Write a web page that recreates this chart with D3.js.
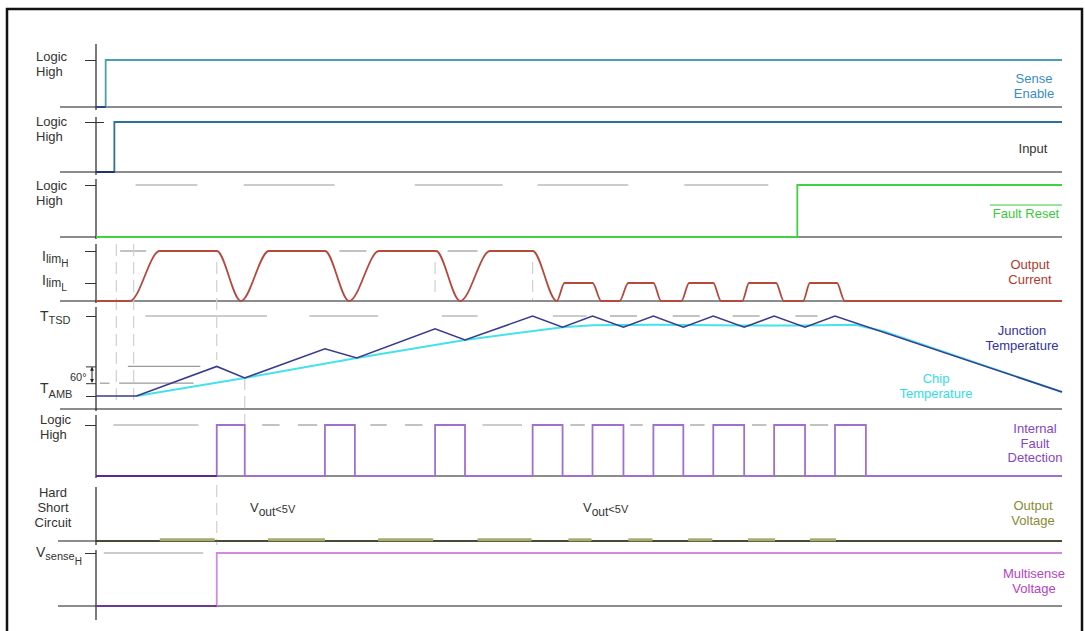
<!DOCTYPE html>
<html>
<head>
<meta charset="utf-8">
<script src="https://cdn.jsdelivr.net/npm/d3@7"></script>
<style>
  body { margin: 0; background: #fff; }
  text { font-family: "Liberation Sans", Arial, sans-serif; }
</style>
</head>
<body>
<svg id="timing" width="1085" height="631"></svg>
<script>
// time axis runs 0..1000 (arbitrary units), levels are normalised per trace
const senseEnable = [[0, 0], [10, 1], [1000, 1]];
const inputSignal = [[0, 0], [19, 1], [1000, 1]];
const faultReset = [[0, 0], [726, 1], [1000, 1]];

const ILIM_H = 1, ILIM_L = 0.36;
const outputCurrent = [[0, 0], [35, 0], [66, 1], [125, 1], [150, 0], [179, 1], [237, 1], [262, 0],
  [293, 1], [352, 1], [377, 0], [408, 1], [452, 1], [477, 0],
  [485, 0.36], [514, 0.36], [523, 0], [542, 0], [551, 0.36], [577, 0.36], [585, 0],
  [606, 0], [614, 0.36], [639, 0.36], [647, 0], [669, 0], [676, 0.36], [704, 0.36], [712, 0],
  [732, 0], [739, 0.36], [767, 0.36], [775, 0], [1000, 0]];

// temperature above ambient, T_AMB = 0, T_TSD = 100
const junctionTemp = [[0, 0], [42, 0], [125, 37], [154, 22.5], [237, 59], [270, 47.5], [351, 84], [382, 70],
  [452, 100], [483, 86], [514, 100], [546, 86], [577, 100], [608, 86], [639, 100], [671, 86],
  [702, 100], [734, 86], [765, 100], [1000, 5]];
const chipTemp = [[42, 0], [154, 22.5], [270, 47.5], [382, 70], [483, 86], [514, 88.5], [577, 89],
  [671, 88], [734, 88], [786, 89], [815, 81], [1000, 5]];

const faultPulses = [[125, 154], [237, 268], [351, 382], [452, 483], [514, 546], [577, 608], [639, 671], [702, 734], [765, 797]];
const voutHigh = [[66, 123], [178, 237], [292, 349], [395, 451], [489, 513], [551, 576], [613, 638], [675, 703], [739, 766]];
const multisense = [[0, 0], [125, 1], [1000, 1]];

// grey guide dashes (time intervals)
const resetGuides = [[41, 105], [153, 247], [330, 421], [457, 551], [609, 696]];
const ilimGuides = [[25, 52], [252, 280], [364, 395]];
const tsdGuides = [[51, 177], [221, 292], [358, 395], [473, 508], [532, 560], [597, 625], [659, 687], [724, 747]];
const faultGuides = [[18, 106], [172, 190], [209, 229], [284, 301], [320, 338], [400, 441], [491, 506], [553, 566], [615, 630], [679, 694], [739, 758]];
const msenseGuides = [[8, 111]];
const vGuideTimes = [21, 39, 125, 154, 351, 452];

const svg = d3.select("#timing");
const x = d3.scaleLinear().domain([0, 1000]).range([96, 1062]);

const panels = {
  sense:   {base: 107, high: 60,  top: 44,  bottom: 110, left: 60},
  input:   {base: 172, high: 122, top: 117, bottom: 175, left: 60},
  reset:   {base: 237, high: 185, top: 179, bottom: 239, left: 60},
  current: {base: 301, high: 251, top: 244, bottom: 303, left: 60},
  temp:    {base: 409, high: 316, top: 307, bottom: 411, left: 60},
  fault:   {base: 476, high: 425, top: 415, bottom: 478, left: 96},
  vout:    {base: 541, high: 539, top: 487, bottom: 545, left: 58},
  msense:  {base: 606, high: 553, top: 550, bottom: 620, left: 58}
};
const yOf = p => d3.scaleLinear().domain([0, 1]).range([p.base, p.high]);
const yCur = yOf(panels.current);
const yTemp = d3.scaleLinear().domain([0, 100]).range([396, 316]);

// frame
svg.append("rect").attr("x", 7).attr("y", 9).attr("width", 1075).attr("height", 640)
  .attr("fill", "none").attr("stroke", "#111").attr("stroke-width", 2.5);

// baselines
Object.values(panels).forEach(p => {
  svg.append("line").attr("x1", p.left).attr("x2", 1062).attr("y1", p.base).attr("y2", p.base)
    .attr("stroke", "#666").attr("stroke-width", 1.6);
});

// guides
const guide = (ranges, y) => svg.append("g").selectAll("line").data(ranges).join("line")
  .attr("x1", d => x(d[0])).attr("x2", d => x(d[1])).attr("y1", y).attr("y2", y)
  .attr("stroke", "#999").attr("stroke-width", 1.2);
guide(resetGuides, panels.reset.high);
guide(ilimGuides, yCur(ILIM_H));
guide(tsdGuides, yTemp(100));
guide(faultGuides, panels.fault.high);
guide(msenseGuides, panels.msense.high);
guide([[33, 108]], yTemp(37));
guide([[4, 14], [24, 101]], yTemp(16));

const vSpans = {21: [[244, 400]], 39: [[244, 400]], 125: [[262, 360], [485, 545]], 154: [[378, 425]], 351: [[262, 296]], 452: [[262, 300]]};
vGuideTimes.forEach(tv => {
  vSpans[tv].forEach(s => {
    svg.append("line").attr("x1", x(tv)).attr("x2", x(tv)).attr("y1", s[0]).attr("y2", s[1])
      .attr("stroke", "#d0d0d0").attr("stroke-width", 1.2).attr("stroke-dasharray", "12,6");
  });
});

// axes
const axisTicks = [
  [panels.sense, [1]], [panels.input, [1]], [panels.reset, [1]],
  [panels.current, [ILIM_H, ILIM_L]], [panels.fault, [1]], [panels.msense, [1]]
];
Object.values(panels).forEach(p => {
  svg.append("line").attr("x1", 96).attr("x2", 96).attr("y1", p.top).attr("y2", p.bottom)
    .attr("stroke", "#222").attr("stroke-width", 1.2);
});
axisTicks.forEach(([p, vals]) => {
  svg.append("g").attr("transform", "translate(96,0)")
    .call(d3.axisLeft(yOf(p)).tickValues(vals).tickFormat("").tickSize(11).tickSizeOuter(0))
    .call(g => g.select(".domain").remove())
    .call(g => g.selectAll("line").attr("stroke", "#333"));
});
svg.append("g").attr("transform", "translate(96,0)")
  .call(d3.axisRight(yOf(panels.input)).tickValues([1]).tickFormat("").tickSize(8).tickSizeOuter(0))
  .call(g => g.select(".domain").remove()).call(g => g.selectAll("line").attr("stroke", "#333"));
svg.append("g").attr("transform", "translate(96,0)")
  .call(d3.axisLeft(yTemp).tickValues([0, 100, 37, 16]).tickFormat("").tickSize(10).tickSizeOuter(0))
  .call(g => g.select(".domain").remove()).call(g => g.selectAll("line").attr("stroke", "#333"));

// 60 degree arrow
svg.append("defs").append("marker").attr("id", "ah").attr("viewBox", "0 0 6 6")
  .attr("refX", 5).attr("refY", 3).attr("markerWidth", 4).attr("markerHeight", 4).attr("orient", "auto-start-reverse")
  .append("path").attr("d", "M0,0L6,3L0,6Z").attr("fill", "#222");
svg.append("line").attr("x1", 92).attr("x2", 92).attr("y1", yTemp(37) + 1).attr("y2", yTemp(16) - 1)
  .attr("stroke", "#222").attr("marker-start", "url(#ah)").attr("marker-end", "url(#ah)");

// signals
const stepLine = (p) => d3.line().x(d => x(d[0])).y(d => yOf(p)(d[1])).curve(d3.curveStepAfter);
const draw = (data, gen, color, w) => svg.append("path").datum(data).attr("d", gen)
  .attr("fill", "none").attr("stroke", color).attr("stroke-width", w || 1.8);

draw(senseEnable, stepLine(panels.sense), "#4a9fb0");
draw([[0, 0], [10, 0]], stepLine(panels.sense), "#24407a");
draw(inputSignal, stepLine(panels.input), "#2f6f98");
draw([[0, 0], [19, 0]], stepLine(panels.input), "#1f2f6a");
draw(faultReset, stepLine(panels.reset), "#44d044");

draw(outputCurrent, d3.line().x(d => x(d[0])).y(d => yCur(d[1])).curve(d3.curveMonotoneX), "#b6483c");

const tempLine = d3.line().x(d => x(d[0])).y(d => yTemp(d[1]));
draw(chipTemp, tempLine, "#44e2ea", 2);
draw(junctionTemp, tempLine, "#3b3b8e", 1.6);

const faultSteps = [[0, 0]].concat(...faultPulses.map(d => [[d[0], 1], [d[1], 0]]), [[1000, 0]]);
draw(faultSteps, stepLine(panels.fault), "#a070d0");
draw([[0, 0], [125, 0]], stepLine(panels.fault), "#5a2a90");

svg.append("line").attr("x1", x(0)).attr("x2", x(1000)).attr("y1", panels.vout.base).attr("y2", panels.vout.base)
  .attr("stroke", "#33331a").attr("stroke-width", 1.6);
svg.append("g").selectAll("line").data(voutHigh).join("line")
  .attr("x1", d => x(d[0])).attr("x2", d => x(d[1]))
  .attr("y1", yOf(panels.vout)(0.6)).attr("y2", yOf(panels.vout)(0.6))
  .attr("stroke", "#a6aa6c").attr("stroke-width", 3);

draw(multisense, stepLine(panels.msense), "#d488e2");
draw([[0, 0], [125, 0]], stepLine(panels.msense), "#6a3a90");

// left labels
const leftText = (xx, yy, lines, anchor) => {
  const t = svg.append("text").attr("x", xx).attr("y", yy).attr("font-size", 13).attr("fill", "#333")
    .attr("text-anchor", anchor || "start");
  lines.forEach((l, i) => t.append("tspan").attr("x", xx).attr("dy", i ? 15 : 0).text(l));
};
leftText(36, 61, ["Logic", "High"]);
leftText(36, 126, ["Logic", "High"]);
leftText(36, 190, ["Logic", "High"]);
leftText(40, 424, ["Logic", "High"]);
leftText(53, 497, ["Hard", "Short", "Circuit"], "middle");

const subText = (xx, yy, parts) => {
  const t = svg.append("text").attr("x", xx).attr("y", yy).attr("fill", "#333");
  parts.forEach(p => t.append("tspan").attr("font-size", p[1]).attr("dy", p[2]).text(p[0]));
};
subText(42, 261, [["I", 14, 0], ["lim", 12, 2], ["H", 10, 4]]);
subText(42, 285, [["I", 14, 0], ["lim", 12, 2], ["L", 10, 4]]);
subText(40, 321, [["T", 14, 0], ["TSD", 11, 3]]);
subText(40, 393, [["T", 14, 0], ["AMB", 11, 5]]);
subText(36, 557, [["V", 14, 0], ["sense", 11, 3], ["H", 10, 5]]);
subText(70, 381, [["60°", 11, 0]]);
subText(250, 512, [["V", 13, 0], ["out", 12, 4], ["<5V", 11, -3]]);
subText(583, 512, [["V", 13, 0], ["out", 12, 4], ["<5V", 11, -3]]);

// right labels
const rightText = (xx, yy, lines, color) => {
  const t = svg.append("text").attr("x", xx).attr("y", yy).attr("font-size", 13).attr("fill", color)
    .attr("text-anchor", "middle");
  lines.forEach((l, i) => t.append("tspan").attr("x", xx).attr("dy", i ? 14.5 : 0).text(l));
};
rightText(1034, 83, ["Sense", "Enable"], "#3a8cc4");
rightText(1033, 153, ["Input"], "#333");
rightText(1026, 218, ["Fault Reset"], "#3cc83c");
svg.append("line").attr("x1", 990).attr("x2", 1062).attr("y1", 205).attr("y2", 205)
  .attr("stroke", "#3cc83c").attr("stroke-width", 1.2);
rightText(1030, 269, ["Output", "Current"], "#b03a30");
rightText(1022, 335, ["Junction", "Temperature"], "#33339e");
rightText(936, 383, ["Chip", "Temperature"], "#33dde6");
rightText(1035, 433, ["Internal", "Fault", "Detection"], "#8446c4");
rightText(1033, 510, ["Output", "Voltage"], "#8a8a34");
rightText(1034, 578, ["Multisense", "Voltage"], "#b444c4");
</script>
</body>
</html>
